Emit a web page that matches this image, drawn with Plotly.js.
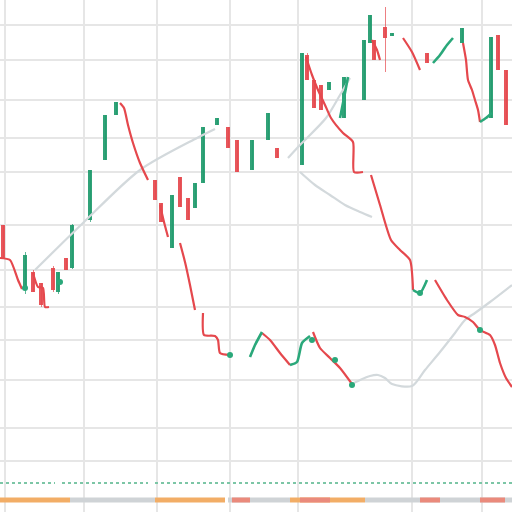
<!DOCTYPE html>
<html><head><meta charset="utf-8">
<script src="https://cdn.plot.ly/plotly-3.0.1.min.js"></script>
<style>html,body{margin:0;padding:0;background:#fff}#chart{width:512px;height:512px}</style>
</head><body><div id="chart"></div>
<script>
// ---- data (x = session index, price levels) ----
const candleX     = [3,25,33,41,53,58,66,72,90,105,116,155,161,172,180,188,195,203,217,228,237,252,268,277,302,307,314,321,329,344,364,370,374,385,392,427,462,491,498,506];
const candleOpen  = [287,222,240,229,244,220,254,244,292,352,397,332,309,264,335,314,304,329,387,385,372,342,372,364,347,457,432,427,422,394,412,469,472,485,476,459,469,394,477,442];
const candleHigh  = [287,260,242,229,246,240,254,288,342,397,410,332,309,317,335,314,329,385,394,385,372,372,399,364,459,459,432,427,430,435,472,497,472,505,479,459,484,475,477,442];
const candleLow   = [254,218,220,205,220,218,242,243,290,352,397,312,290,264,305,292,304,329,387,364,340,342,372,354,347,432,404,402,422,394,412,469,452,440,476,449,469,394,442,387];
const candleClose = [254,257,220,207,222,240,242,287,342,397,410,312,290,317,305,292,329,385,394,364,340,372,399,354,459,432,404,402,430,435,472,497,452,474,479,449,484,475,442,387];

// red price path (null = gap)
const redX = [0,10,18,22,null,33,38,43,45,49,null,120,124,128,133,140,148,null,160,164,168,null,180,185,190,195,null,203,204,215,218,220,230,null,262,270,280,290,null,313,320,330,340,352,null,306,312,318,325,331,343,353,354,363,null,371,380,391,400,410,413,null,435,447,458,465,473,480,490,495,500,506,512,null,403,412,420,null,463,466,468,472,475,478,480,null,372,377,380];
const redY = [254,252,232,223,null,239,225,224,205,205,null,409,404,387,369,349,332,null,307,290,275,null,269,250,227,202,null,199,177,176,172,159,157,null,179,172,159,147,null,180,164,154,144,128,null,455,437,422,407,394,379,370,340,340,null,337,307,272,262,252,222,null,232,212,197,195,190,182,177,167,149,134,125,null,474,460,442,null,469,452,432,422,412,402,390,null,472,462,452];

// green price path
const greenX = [250,255,262,null,290,297,302,310,null,433,440,447,453,null,480,486,492,null,413,420,427,null,340,344,348];
const greenY = [155,167,180,null,147,150,169,176,null,449,457,467,474,null,390,394,399,null,222,219,232,null,394,414,435];

// green marker points
const dotX = [230,312,335,352,420,480,25,60];
const dotY = [157,172,152,127,219,182,224,230];

// gray average path
const grayX = [35,83,140,197,215,null,288,300,326,340,350,null,300,315,330,345,360,372,null,352,360,370,378,385,392,412,425,440,455,465,475,490,512];
const grayY = [242,289,342,374,383,null,354,367,394,417,434,null,340,327,317,307,300,295,null,128,132,136,137,134,128,126,142,160,179,192,199,210,227];

// bottom volume strips
const volGreenX = [0,55,null,62,148,null,155,512];
const volGreenY = [29,29,null,29,29,null,29,29];
const volOrangeX = [0,70,null,155,225,null,290,365];
const volOrangeY = [12,12,null,12,12,null,12,12];
const volGrayX = [70,155,null,228,290,null,365,512];
const volGrayY = [12,12,null,12,12,null,12,12];
const volRedX = [232,250,null,300,330,null,420,440,null,480,505];
const volRedY = [12,12,null,12,12,null,12,12,null,12,12];

const UP = '#1f9a6c', DOWN = '#e5484d';

// build candle bodies/wicks as bars
const wickBase=[], wickLen=[], wickCol=[], bodyBase=[], bodyLen=[], bodyCol=[];
for (let i=0;i<candleX.length;i++){
  const o=candleOpen[i], c=candleClose[i], h=candleHigh[i], l=candleLow[i];
  const col = c>=o ? UP : DOWN;
  wickBase.push(l); wickLen.push(Math.max(h-l,0.5)); wickCol.push(col);
  bodyBase.push(Math.min(o,c)); bodyLen.push(Math.max(Math.abs(c-o),2)); bodyCol.push(col);
}

const traces = [
  {type:'scatter', mode:'lines', x:grayX, y:grayY, line:{color:'#d3d9dc', width:2.2, shape:'spline', smoothing:0.8}, hoverinfo:'skip'},
  {type:'bar', x:candleX, y:wickLen, base:wickBase, width:1, marker:{color:wickCol, opacity:0.7}, hoverinfo:'skip'},
  {type:'bar', x:candleX, y:bodyLen, base:bodyBase, width:4.5, marker:{color:bodyCol, opacity:0.92}, hoverinfo:'skip'},
  {type:'scatter', mode:'lines', x:redX, y:redY, line:{color:DOWN, width:2.2, shape:'spline', smoothing:0.6}, hoverinfo:'skip'},
  {type:'scatter', mode:'lines', x:greenX, y:greenY, line:{color:'#2aa87a', width:2.6, shape:'spline', smoothing:0.6}, hoverinfo:'skip'},
  {type:'scatter', mode:'markers', x:dotX, y:dotY, marker:{color:'#2aa87a', size:6}, hoverinfo:'skip'},
  {type:'scatter', mode:'lines', x:volGreenX, y:volGreenY, line:{color:'#7cc6a6', width:2, dash:'dot'}, hoverinfo:'skip'},
  {type:'scatter', mode:'lines', x:volGrayX, y:volGrayY, line:{color:'#cfd3d6', width:5}, hoverinfo:'skip'},
  {type:'scatter', mode:'lines', x:volOrangeX, y:volOrangeY, line:{color:'#f2ad66', width:5}, hoverinfo:'skip'},
  {type:'scatter', mode:'lines', x:volRedX, y:volRedY, line:{color:'#ea8a7c', width:5}, hoverinfo:'skip'}
];

const gridX = [5,84,157,230,298,412,482];
const gridYpix = [25,60,100,138,172,225,270,307,340,380,428,461];
const layout = {
  width:512, height:512, margin:{l:0,r:0,t:0,b:0},
  paper_bgcolor:'#ffffff', plot_bgcolor:'#ffffff',
  showlegend:false, barmode:'overlay', bargap:0,
  xaxis:{range:[0,512], tickmode:'array', tickvals:gridX, showticklabels:false, ticks:'',
         showgrid:true, gridcolor:'#e6e6e6', gridwidth:2, zeroline:false, showline:false, fixedrange:true},
  yaxis:{range:[0,512], tickmode:'array', tickvals:gridYpix.map(v=>512-v), showticklabels:false, ticks:'',
         showgrid:true, gridcolor:'#e6e6e6', gridwidth:2, zeroline:false, showline:false, fixedrange:true}
};
Plotly.newPlot('chart', traces, layout, {staticPlot:true, displayModeBar:false});
</script>
</body></html>
